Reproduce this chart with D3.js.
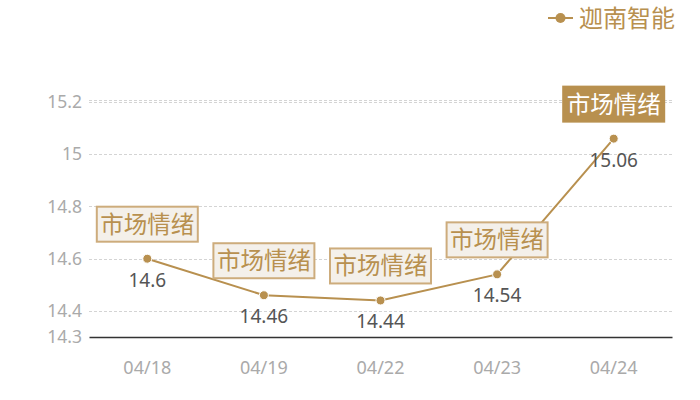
<!DOCTYPE html>
<html>
<head>
<meta charset="utf-8">
<script src="https://cdn.jsdelivr.net/npm/d3@7"></script>
<style>
body { margin: 0; background: #fff; }
svg { display: block; font-family: "Noto Sans CJK SC", "Noto Sans", sans-serif; }
</style>
</head>
<body>
<div id="vis"></div>
<script>
const FRAME_WIDTH = 700;
const FRAME_HEIGHT = 400;
const MARGINS = {left: 89, right: 28, top: 100, bottom: 63};

// data
const dates = ["04/18", "04/19", "04/22", "04/23", "04/24"];
const prices = [14.6, 14.46, 14.44, 14.54, 15.06];
const tags = ["市场情绪", "市场情绪", "市场情绪", "市场情绪", "市场情绪"];
const yTicks = [14.3, 14.4, 14.6, 14.8, 15, 15.2];
const gridLines = [14.4, 14.6, 14.8, 15, 15.2, 15.208];
const seriesName = "迦南智能";

const GOLD = "#b8904f";

const VIS_WIDTH = FRAME_WIDTH - MARGINS.left - MARGINS.right;
const VIS_HEIGHT = FRAME_HEIGHT - MARGINS.top - MARGINS.bottom;

const FRAME = d3.select("#vis")
	.append("svg")
		.attr("width", FRAME_WIDTH)
		.attr("height", FRAME_HEIGHT);

const X_SCALE = d3.scaleBand()
	.domain(dates)
	.range([MARGINS.left, MARGINS.left + VIS_WIDTH]);

const Y_SCALE = d3.scaleLinear()
	.domain([14.3, 15.208])
	.range([MARGINS.top + VIS_HEIGHT, MARGINS.top]);

const cx = (d, i) => X_SCALE(dates[i]) + X_SCALE.bandwidth() / 2;

// grid
FRAME.selectAll(".grid")
	.data(gridLines)
	.enter()
	.append("line")
		.attr("x1", MARGINS.left)
		.attr("x2", MARGINS.left + VIS_WIDTH)
		.attr("y1", (d) => Math.round(Y_SCALE(d)) + 0.5)
		.attr("y2", (d) => Math.round(Y_SCALE(d)) + 0.5)
		.attr("stroke", "#d4d4d4")
		.attr("stroke-dasharray", "3,2");

// y axis labels
const yAxis = d3.axisLeft(Y_SCALE)
	.tickValues(yTicks)
	.tickFormat((d) => String(d))
	.tickSize(0)
	.tickPadding(7);

FRAME.append("g")
	.attr("transform", `translate(${MARGINS.left},0)`)
	.call(yAxis)
	.call((g) => g.select(".domain").remove())
	.call((g) => g.selectAll("text")
		.attr("fill", "#aaaaaa")
		.attr("font-size", 17.5)
		.attr("font-family", "'Noto Sans', sans-serif"));

// x axis
const xAxis = d3.axisBottom(X_SCALE).tickSize(0).tickPadding(24);

FRAME.append("g")
	.attr("transform", `translate(0,${MARGINS.top + VIS_HEIGHT})`)
	.call(xAxis)
	.call((g) => g.select(".domain").attr("stroke", "#333").attr("stroke-width", 1.3))
	.call((g) => g.selectAll("text")
		.attr("fill", "#aaaaaa")
		.attr("font-size", 18)
		.attr("font-family", "'Noto Sans', sans-serif"));

// line
const line = d3.line()
	.x((d, i) => cx(d, i))
	.y((d) => Y_SCALE(d));

FRAME.append("path")
	.datum(prices)
	.attr("d", line)
	.attr("fill", "none")
	.attr("stroke", GOLD)
	.attr("stroke-width", 2);

FRAME.selectAll(".point")
	.data(prices)
	.enter()
	.append("circle")
		.attr("cx", (d, i) => cx(d, i))
		.attr("cy", (d) => Y_SCALE(d))
		.attr("r", 4.5)
		.attr("fill", GOLD)
		.attr("stroke", "#fff")
		.attr("stroke-width", 1);

// value labels
FRAME.selectAll(".val")
	.data(prices)
	.enter()
	.append("text")
		.attr("x", (d, i) => cx(d, i))
		.attr("y", (d) => Y_SCALE(d) + 28)
		.attr("text-anchor", "middle")
		.attr("fill", "#555")
		.attr("font-size", 19)
		.attr("font-family", "'Noto Sans', sans-serif")
		.text((d) => String(d));

// tag boxes
const BOX_W = 101;
const BOX_H = 35;
const last = prices.length - 1;

const tagG = FRAME.selectAll(".tag")
	.data(prices)
	.enter()
	.append("g")
		.attr("transform", (d, i) => `translate(${cx(d, i)},${Y_SCALE(d) - 17})`);

tagG.append("rect")
	.attr("x", -BOX_W / 2)
	.attr("y", -BOX_H)
	.attr("width", BOX_W)
	.attr("height", BOX_H)
	.attr("fill", (d, i) => i === last ? GOLD : "#f4f0ea")
	.attr("stroke", (d, i) => i === last ? GOLD : "#cdac7c")
	.attr("stroke-width", 2);

tagG.append("text")
	.attr("x", 0)
	.attr("y", -BOX_H / 2 + 8.5)
	.attr("text-anchor", "middle")
	.attr("fill", (d, i) => i === last ? "#fff" : GOLD)
	.attr("font-size", 23.5)
	.text((d, i) => tags[i]);

// legend
const legend = FRAME.append("g").attr("transform", "translate(548,18)");
legend.append("line")
	.attr("x1", 0).attr("x2", 25)
	.attr("stroke", GOLD).attr("stroke-width", 2);
legend.append("circle")
	.attr("cx", 12.5).attr("r", 5)
	.attr("fill", GOLD);
legend.append("text")
	.attr("x", 31).attr("y", 8.5)
	.attr("fill", GOLD)
	.attr("font-size", 24)
	.text(seriesName);
</script>
</body>
</html>
